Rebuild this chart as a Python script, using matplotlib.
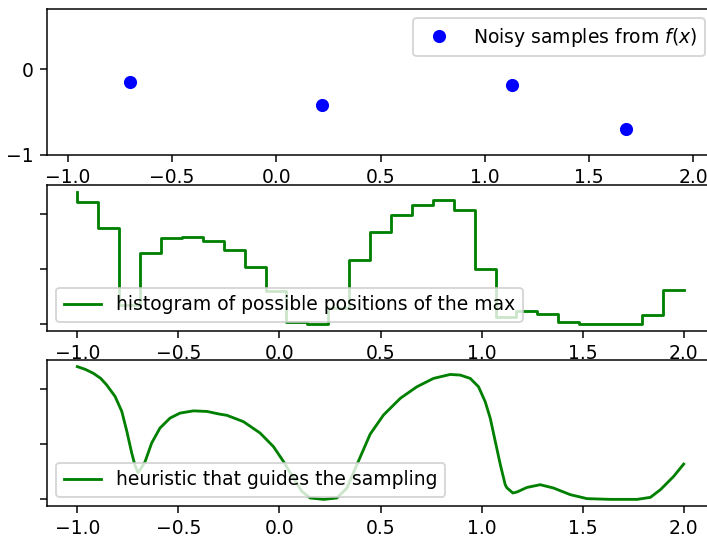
import numpy as np
import matplotlib
matplotlib.use('Agg')
import matplotlib.pyplot as plt

# noisy samples of f(x)
sample_x = [-0.70, 0.22, 1.13, 1.68]
sample_y = [-0.15, -0.415, -0.185, -0.70]

# histogram of possible positions of the max (30 bins over [-1, 2])
hist_x = np.linspace(-1, 2, 30)
hist_y = [2.41, 2.23, 1.75, 0.35, 1.30, 1.56, 1.59, 1.51, 1.35, 1.05,
          0.61, 0.04, 0.00, 0.30, 1.17, 1.67, 1.99, 2.17, 2.25, 2.08,
          1.00, 0.13, 0.25, 0.18, 0.04, 0.01, 0.00, 0.00, 0.17, 0.63]

# heuristic that guides the sampling
heur_x = [-1.0, -0.96, -0.921, -0.885, -0.855, -0.813, -0.78, -0.755, -0.731,
          -0.715, -0.70, -0.685, -0.665, -0.632, -0.591, -0.541, -0.492,
          -0.426, -0.359, -0.294, -0.26, -0.178, -0.096, -0.03, 0.02, 0.069,
          0.111, 0.152, 0.218, 0.284, 0.334, 0.383, 0.449, 0.515, 0.598,
          0.68, 0.762, 0.845, 0.895, 0.944, 0.985, 1.018, 1.043, 1.068,
          1.093, 1.117, 1.125, 1.155, 1.175, 1.225, 1.29, 1.356, 1.439,
          1.522, 1.637, 1.77, 1.835, 1.885, 1.95, 2.0]
heur_y = [2.40, 2.35, 2.28, 2.19, 2.07, 1.86, 1.59, 1.23, 0.84,
          0.62, 0.48, 0.56, 0.68, 1.02, 1.29, 1.47, 1.56,
          1.60, 1.59, 1.54, 1.52, 1.405, 1.20, 0.955, 0.685, 0.386,
          0.144, 0.025, 0.0, 0.025, 0.205, 0.625, 1.18, 1.526, 1.827,
          2.036, 2.187, 2.259, 2.247, 2.187, 2.036, 1.766, 1.467, 1.045,
          0.625, 0.265, 0.21, 0.115, 0.133, 0.216, 0.265, 0.205, 0.085,
          0.013, 0.0, 0.0, 0.036, 0.175, 0.414, 0.638]

x_ticks = [-1.0, -0.5, 0.0, 0.5, 1.0, 1.5, 2.0]

DPI = 135
fig = plt.figure(figsize=(707 / DPI, 538 / DPI), dpi=DPI)

left = 47 / 707
width = 667 / 707
height = 146 / 538

# 1st panel: samples
ax1 = fig.add_axes([left, (538 - 155) / 538, width, height])
ax1.plot(sample_x, sample_y, 'bo', label='Noisy samples from $f(x)$')
ax1.set_xlim(-1.1, 2.1)
ax1.set_ylim(-1, 0.7)
ax1.set_xticks(x_ticks)
ax1.set_yticks([-1, 0])
ax1.legend(loc='upper right')

# 2nd panel: histogram
ax2 = fig.add_axes([left, (538 - 331) / 538, width, height])
ax2.plot(hist_x, hist_y, 'g', drawstyle='steps',
         label='histogram of possible positions of the max')
ax2.set_xticks(x_ticks)
ax2.set_yticks([0, 1, 2])
ax2.set_yticklabels([])
ax2.legend(loc='lower left')

# 3rd panel: heuristic
ax3 = fig.add_axes([left, (538 - 506) / 538, width, height])
ax3.plot(heur_x, heur_y, 'g', label='heuristic that guides the sampling')
ax3.set_xticks(x_ticks)
ax3.set_yticks([0, 1, 2])
ax3.set_yticklabels([])
ax3.legend(loc='lower left')

fig.savefig('out.png', dpi=DPI)
